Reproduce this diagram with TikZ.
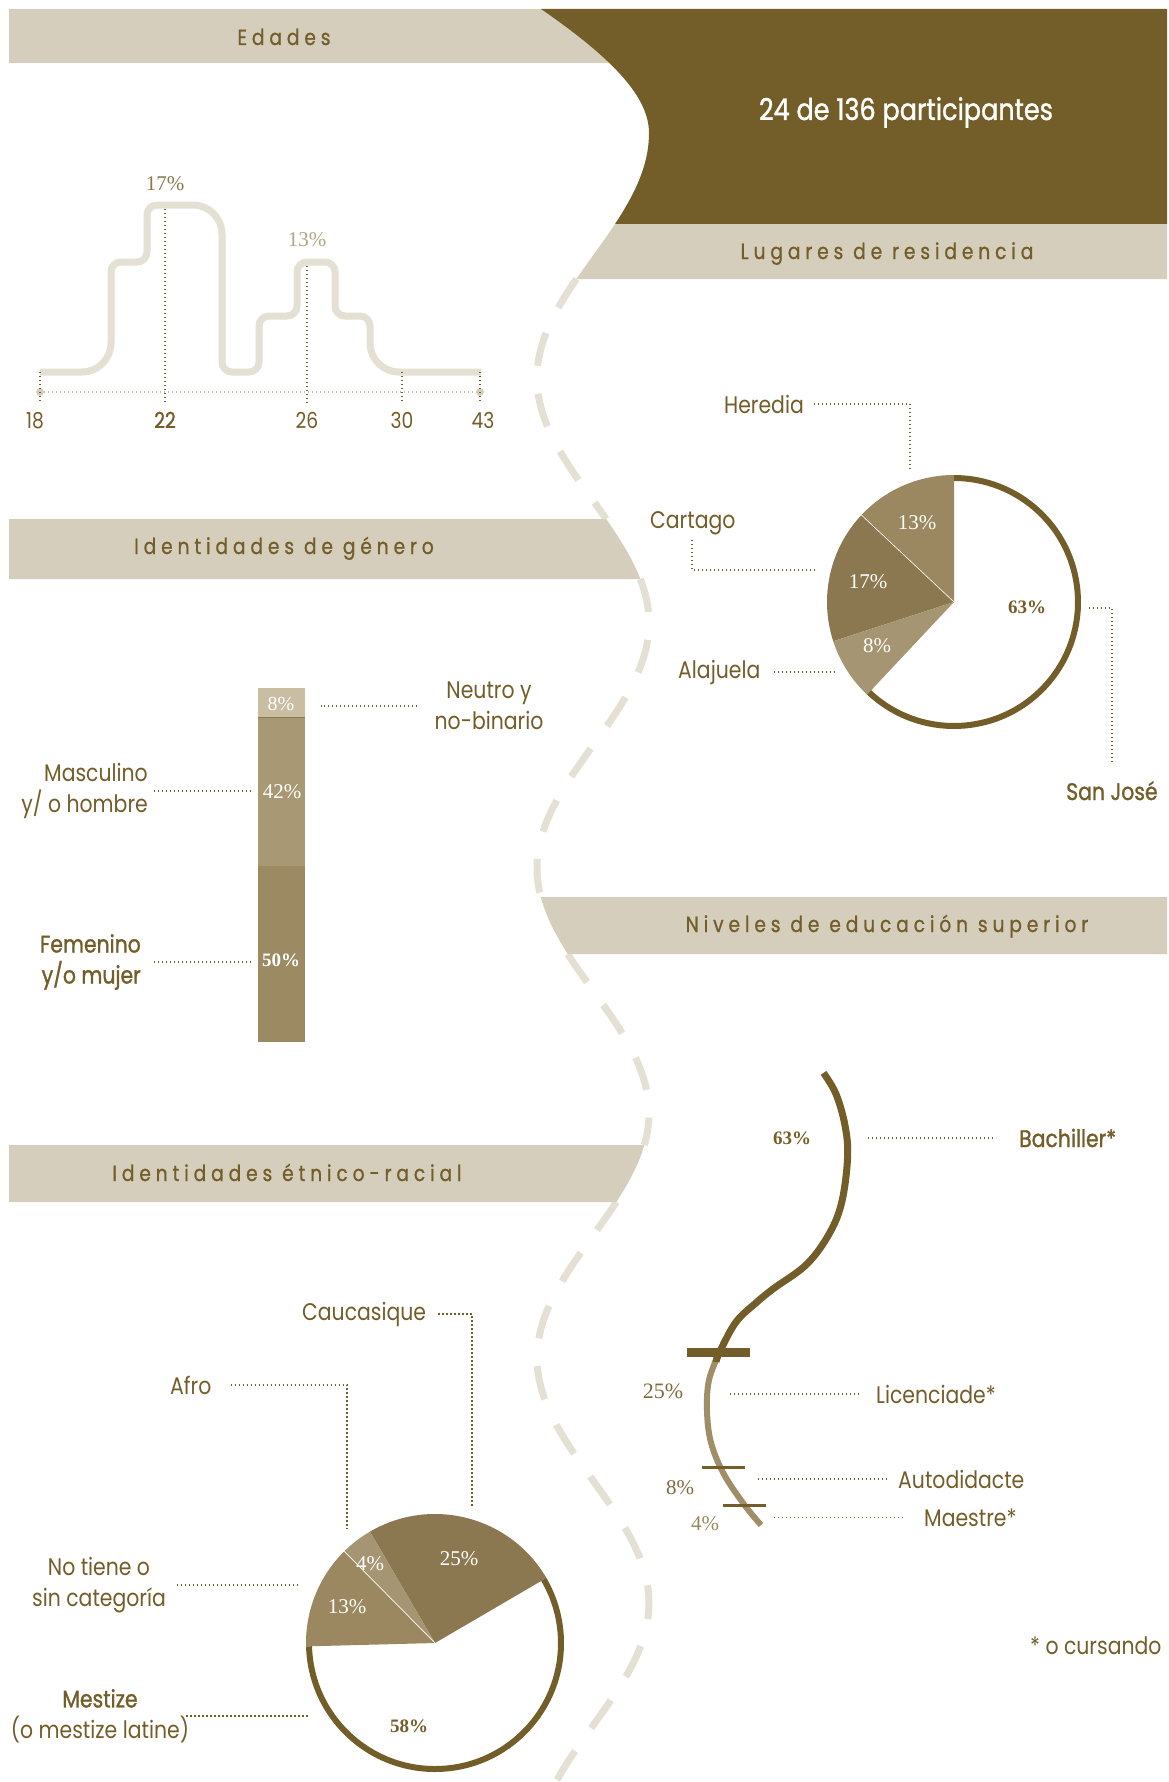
\documentclass[tikz,border=0pt]{standalone}
\usepackage{fontspec}
\setsansfont[FakeStretch=0.85]{Poppins}
\newfontfamily\headfont[FakeStretch=0.85,LetterSpace=22,FakeBold=0.8]{Poppins}
\newfontfamily\medfont[FakeStretch=0.85,FakeBold=1.2]{Poppins}
\newfontfamily\numfont{Liberation Serif}
\usepackage{xcolor}

\definecolor{deepbrown}{HTML}{735E2A}
\definecolor{barbeige}{HTML}{D6CEBC}
\definecolor{wavebeige}{HTML}{E4E0D4}
\definecolor{sliceA}{HTML}{9B8860}
\definecolor{sliceB}{HTML}{8C7850}
\definecolor{sliceC}{HTML}{A69572}
\definecolor{barlight}{HTML}{C9BDA2}
\definecolor{barmid}{HTML}{A99874}
\definecolor{bardark}{HTML}{9C8A62}
\definecolor{pctlight}{HTML}{B3A584}
\definecolor{pctdark}{HTML}{806B3E}
\definecolor{curvelight}{HTML}{A08E68}

\begin{document}
\begin{tikzpicture}[x=1pt,y=-1pt,
  declare function={wave(\t)=593+56*cos(((\t-133)/490)*360);},
  head/.style={font=\headfont\fontsize{22}{26}\selectfont, text=deepbrown, inner sep=0pt, anchor=base},
  lbl/.style={font=\sffamily\fontsize{24}{31}\selectfont, text=deepbrown, inner sep=0pt},
  lblb/.style={lbl, font=\medfont\fontsize{24}{31}\selectfont},
  tick/.style={font=\sffamily\fontsize{22}{26}\selectfont, text=deepbrown, inner sep=0pt, anchor=base},
  pct/.style={font=\numfont\fontsize{21}{25}\selectfont, inner sep=0pt},
  pctb/.style={font=\numfont\bfseries\fontsize{19}{23}\selectfont, text=deepbrown, inner sep=0pt},
  leader/.style={draw=deepbrown, line width=1.3pt, dash pattern=on 1.3pt off 2.7pt},
  axisdots/.style={draw=barlight, line width=1.3pt, dash pattern=on 1.3pt off 2.7pt},
  stepline/.style={draw=wavebeige, line width=7pt},
  wavedash/.style={draw=wavebeige, line width=7pt, dash pattern=on 34pt off 28pt},
  ring/.style={draw=deepbrown, line width=6pt}
]

% ============================================================
% 画布
% ============================================================

\useasboundingbox (0,0) rectangle (1169,1782);
\fill[white] (0,0) rectangle (1169,1782);

% ============================================================
% 波浪虚线 + 标题条
% ============================================================

\foreach \ya/\yb in {279/519, 579/897, 954/1145, 1202/1782} {
  \draw[wavedash] plot[domain=\ya:\yb, samples=60] ({wave(\x)},\x);
}

\fill[barbeige] (9,9) rectangle (700,63);
\fill[deepbrown] (541,9) .. controls (615,60) and (649,98) .. (649,133)
  -- plot[domain=133:224, samples=20] ({wave(\x)},\x)
  -- (1167,224) -- (1167,9) -- cycle;
\fill[barbeige] (1167,224) -- plot[domain=224:279, samples=12] ({wave(\x)},\x) -- (1167,279) -- cycle;
\fill[barbeige] (9,519) -- plot[domain=519:579, samples=12] ({wave(\x)},\x) -- (9,579) -- cycle;
\fill[barbeige] (1167,897) -- plot[domain=897:954, samples=12] ({wave(\x)},\x) -- (1167,954) -- cycle;
\fill[barbeige] (9,1145) -- plot[domain=1145:1202, samples=12] ({wave(\x)},\x) -- (9,1202) -- cycle;

\node[head] (edadesT) at (284,45) {Edades};
\node[font=\medfont\fontsize{30}{36}\selectfont, text=white, inner sep=0pt, anchor=base]
  (totalT) at (906,120) {24 de 136 participantes};
\node[head] (lugaresT) at (887,259) {Lugares de residencia};
\node[head] (generoT) at (284,554) {Identidades de género};
\node[head] (nivelesT) at (887,932) {Niveles de educación superior};
\node[head] (etnicoT) at (287,1181) {Identidades étnico-racial};

% ============================================================
% 年龄分布
% ============================================================

\draw[stepline] (40,372)
  [rounded corners=29pt] -- (111,372)
  [rounded corners=10pt] -- (111,262) -- (147,262) -- (147,205)
  [rounded corners=29pt] -- (222,205)
  [rounded corners=10pt] -- (222,372) -- (259,372) -- (259,316) -- (297,316)
  -- (297,262) -- (335,262) -- (335,316) -- (370,316)
  [rounded corners=29pt] -- (370,372)
  [rounded corners=10pt] -- (481,372);

\draw[axisdots] (40,392) -- (480,392);
\fill[barbeige] (40,392) circle[radius=4];
\fill[barbeige] (480,392) circle[radius=4];

\foreach \xx/\yy in {40/372, 165/209, 307/266, 402/372, 480/372} {
  \draw[leader] (\xx,\yy) -- (\xx,403);
}

\foreach \xx/\lab in {35/18, 307/26, 402/30, 483/43} {
  \node[tick] (age\lab) at (\xx,428) {\lab};
}
\node[tick, font=\medfont\fontsize{22}{26}\selectfont] (age22) at (165,428) {22};

\node[pct, text=sliceB] (peakA) at (165,184) {17\%};
\node[pct, text=pctlight] (peakB) at (307,240) {13\%};

% ============================================================
% 居住地饼图
% ============================================================

\coordinate (lugC) at (954,602);

\foreach \a/\b/\c in {90/136.8/sliceA, 136.8/198/sliceB, 198/226.8/sliceC} {
  \fill[\c] (lugC) -- ++(-\a:127) arc[start angle=-\a, end angle=-\b, radius=127] -- cycle;
}
\draw[white, line width=0.6pt] (lugC) -- ++(-136.8:127);
\draw[ring] (lugC) ++(-226.8:124) arc[start angle=-226.8, end angle=-450, radius=124];

\node[pct, text=white] (herP) at (917,523) {13\%};
\node[pct, text=white] (carP) at (868,582) {17\%};
\node[pct, text=white] (alaP) at (877,646) {8\%};
\node[pctb] (sjP) at (1027,607) {63\%};

\node[lbl, anchor=west] (heredia) at (724,404) {Heredia};
\node[lbl, anchor=base west] (cartago) at (650,528) {Cartago};
\node[lbl, anchor=west] (alajuela) at (678,672) {Alajuela};
\node[lblb, anchor=base west] (sanjose) at (1066,800) {San José};

\coordinate (herEnd) at (910,470);
\coordinate (carEnd) at (814,570);
\coordinate (alaEnd) at (837,672);
\coordinate (sjStart) at (1089,608);

\draw[leader] ([xshift=10pt]heredia.east) -| (herEnd);
\draw[leader] (cartago.south west) ++(42,5) |- (carEnd);
\draw[leader] ([xshift=13pt]alajuela.east) -- (alajuela.east -| alaEnd);
\draw[leader] (sjStart) -| ([yshift=18pt]sanjose.north);

% ============================================================
% 性别认同条形图
% ============================================================

\fill[barlight] (258,688) rectangle (305,717);
\fill[barmid] (258,717) rectangle (305,866);
\fill[bardark] (258,866) rectangle (305,1042);
\draw[sliceB, line width=0.8pt] (258,717) -- (305,717);

\node[pct, text=white, font=\numfont\fontsize{20}{24}\selectfont] (neuP) at (281,704) {8\%};
\node[pct, text=white] (masP) at (282,792) {42\%};
\node[pctb, text=white] (femP) at (281,960) {50\%};

\node[lbl, align=center] (neutro) at (489,706) {Neutro y\\no-binario};
\node[lbl, align=right, anchor=east] (masc) at (148,791) {Masculino\\y/ o hombre};
\node[lblb, align=right, anchor=east] (fem) at (141,962) {Femenino\\y/o mujer};

\coordinate (neuEnd) at (321,706);
\coordinate (masEnd) at (253,791);
\coordinate (femEnd) at (253,962);

\draw[leader] ([xshift=-17pt]neutro.west) -- (neutro.west -| neuEnd);
\draw[leader] ([xshift=6pt]masc.east) -- (masc.east -| masEnd);
\draw[leader] ([xshift=13pt]fem.east) -- (fem.east -| femEnd);

% ============================================================
% 教育程度曲线
% ============================================================

\draw[curvelight, line width=6pt] plot[smooth, tension=0.6] coordinates {
  (719.6,1352) (709,1380) (707,1411) (711,1442.5) (723.7,1473.8) (744.5,1505) (761,1525)};
\draw[deepbrown, line width=7pt] plot[smooth, tension=0.6] coordinates {
  (823.5,1072.9) (836,1094) (845,1125.5) (847.6,1156.8) (842,1201) (829.8,1232.7)
  (807,1264) (773.6,1288.5) (757,1302) (736,1322) (719.6,1352) (716,1362)};

\fill[deepbrown] (687,1347.5) rectangle (749.5,1356.5);
\fill[deepbrown] (702,1466) rectangle (745,1468.5);
\fill[deepbrown] (723,1504) rectangle (766,1506.5);

\node[pctb] (bachP) at (792,1138) {63\%};
\node[pct, text=pctdark, font=\numfont\fontsize{22}{26}\selectfont] (licP) at (663,1391) {25\%};
\node[pct, text=pctdark] (autP) at (680,1488) {8\%};
\node[pct, text=sliceA] (maeP) at (705,1524) {4\%};

\node[lblb, anchor=base west] (bachiller) at (1019,1147) {Bachiller*};
\node[lbl, anchor=base west] (licenciade) at (876,1403) {Licenciade*};
\node[lbl, anchor=base west] (autodidacte) at (898,1488) {Autodidacte};
\node[lbl, anchor=base west] (maestre) at (924,1526) {Maestre*};

\coordinate (bachStart) at (868,1138);
\coordinate (licStart) at (730,1394);
\coordinate (autStart) at (758,1482);
\coordinate (maeStart) at (774,1518);

\draw[leader] (bachStart |- bachiller.west) -- ([xshift=-23pt]bachiller.west);
\draw[leader] (licStart |- licenciade.west) -- ([xshift=-17pt]licenciade.west);
\draw[leader] (autStart |- autodidacte.west) -- ([xshift=-11pt]autodidacte.west);
\draw[leader] (maeStart |- maestre.west) -- ([xshift=-21pt]maestre.west);

\node[lbl, anchor=base west] (cursando) at (1030,1654) {* o cursando};

% ============================================================
% 族裔认同饼图
% ============================================================

\coordinate (etnC) at (435,1643);

\foreach \a/\b/\c in {30.3/120.3/sliceB, 120.3/134.7/sliceC, 134.7/181.5/sliceA} {
  \fill[\c] (etnC) -- ++(-\a:129) arc[start angle=-\a, end angle=-\b, radius=129] -- cycle;
}
\draw[white, line width=0.7pt] (etnC) -- ++(-134.7:129);
\draw[ring] (etnC) ++(-181.5:126) arc[start angle=-181.5, end angle=-390.3, radius=126];

\node[pct, text=white] (caucP) at (459,1559) {25\%};
\node[pct, text=white] (afroP) at (370,1564) {4\%};
\node[pct, text=white] (ntP) at (347,1607) {13\%};
\node[pctb] (mestP) at (409,1726) {58\%};

\node[lbl, anchor=base west] (cauc) at (302,1320) {Caucasique};
\node[lbl, anchor=base west] (afro) at (170,1394) {Afro};
\node[lbl, align=center] (notiene) at (99,1585) {No tiene o\\sin categoría};
\node[lbl, align=center] (mestize) at (100,1716) {{\medfont Mestize}\\(o mestize latine)};

\coordinate (caucEnd) at (472,1506);
\coordinate (afroEnd) at (347,1529);
\coordinate (ntEnd) at (298,1585);
\coordinate (mestEnd) at (309,1716);

\draw[leader] ([xshift=12pt]cauc.east) -| (caucEnd);
\draw[leader] ([xshift=19pt]afro.east) -| (afroEnd);
\draw[leader] ([xshift=11pt]notiene.east) -- (notiene.east -| ntEnd);
\draw[leader] ([xshift=-3pt]mestize.east) -- (mestize.east -| mestEnd);

\end{tikzpicture}
\end{document}
